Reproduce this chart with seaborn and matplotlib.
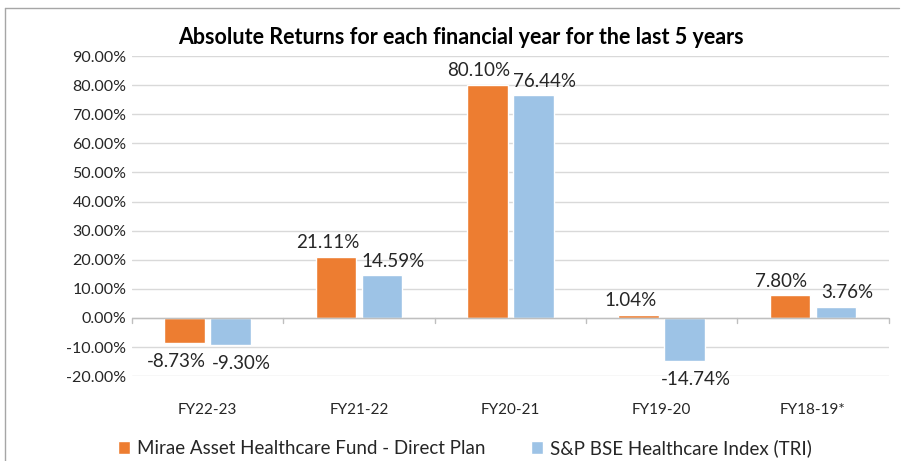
import pandas as pd
import seaborn as sns
import matplotlib.pyplot as plt
from matplotlib.lines import Line2D
from matplotlib.ticker import FuncFormatter, MultipleLocator

years = ["FY22-23", "FY21-22", "FY20-21", "FY19-20", "FY18-19*"]
fund = [-8.73, 21.11, 80.10, 1.04, 7.80]
index = [-9.30, 14.59, 76.44, -14.74, 3.76]
series = ["Mirae Asset Healthcare Fund - Direct Plan", "S&P BSE Healthcare Index (TRI)"]

df = pd.DataFrame({
    "Year": years * 2,
    "Return": fund + index,
    "Series": [series[0]] * len(years) + [series[1]] * len(years),
})

sns.set_style("white")
plt.rcParams['font.family'] = ['Lato', 'DejaVu Sans']
txt = "#262626"

fig = plt.figure(figsize=(9.04, 4.61), dpi=100)
ax = fig.add_axes([0.146, 0.184, 0.837, 0.6945])
sns.barplot(data=df, x="Year", y="Return", hue="Series", order=years,
            hue_order=series, palette=["#ED7D31", "#9DC3E6"], saturation=1,
            width=0.61, gap=0.12, ax=ax, legend=True)

ax.set_ylim(-20, 90)
ax.yaxis.set_major_locator(MultipleLocator(10))
ax.yaxis.set_major_formatter(FuncFormatter(lambda v, p: f"{v:.2f}%"))
ax.set_xlim(-0.5, 4.5)
ax.grid(axis="y", color="#d9d9d9", lw=1)
ax.set_axisbelow(True)
for s in ax.spines.values():
    s.set_visible(False)
ax.set_xlabel(None)
ax.set_ylabel(None)
ax.tick_params(axis="y", length=0, labelsize=11.5, labelcolor=txt, pad=4)
ax.tick_params(axis="x", length=0, labelsize=11, labelcolor=txt, pad=19)
ax.axhline(0, color="#bfbfbf", lw=1, zorder=1)
for b in range(6):
    ax.plot([b - 0.5, b - 0.5], [0, -1.6], color="#bfbfbf", lw=1, clip_on=False)

# label offsets (points) so neighbouring labels do not collide
shift = [-6, 8]
for i, cont in enumerate(ax.containers):
    for bar in cont:
        h = bar.get_height()
        xc = bar.get_x() + bar.get_width() / 2
        if h >= 0:
            ax.annotate(f"{h:.2f}%", (xc, h), xytext=(shift[i], 4), textcoords="offset points",
                        ha="center", va="bottom", fontsize=13.5, color=txt)
        else:
            ax.annotate(f"{h:.2f}%", (xc, h), xytext=(shift[i], -7), textcoords="offset points",
                        ha="center", va="top", fontsize=13.5, color=txt)

ax.legend(loc="lower center", bbox_to_anchor=(0.44, -0.305), ncol=2, frameon=False,
          fontsize=13.5, handlelength=0.65, handleheight=0.65, columnspacing=2.4,
          handletextpad=0.4, labelcolor=txt)

fig.text(0.51, 0.918, "Absolute Returns for each financial year for the last 5 years",
         ha="center", va="center", fontsize=15.5, fontweight="bold", color="black")

fig.add_artist(Line2D([0.005, 0.995], [0.983, 0.983], color="#a6a6a6", lw=1))
fig.add_artist(Line2D([0.005, 0.005], [0.0, 0.983], color="#a6a6a6", lw=1))

plt.savefig("out.png", dpi=100)
